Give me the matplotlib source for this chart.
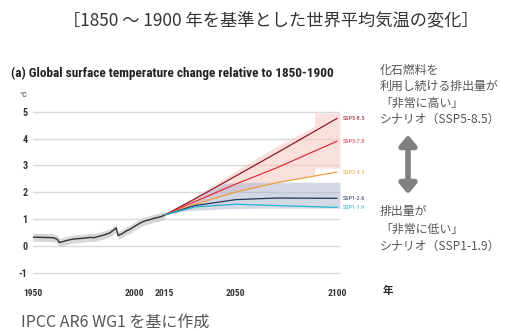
import numpy as np
import matplotlib.pyplot as plt
from matplotlib import font_manager as fm
from matplotlib.patches import FancyArrowPatch

# observed record 1950-2015 (deg C relative to 1850-1900)
hist_years = [1950, 1955, 1960, 1962, 1963, 1965, 1968, 1970, 1975, 1978, 1980, 1983,
              1985, 1988, 1990, 1991, 1992, 1994, 1996, 1998, 2000, 2003, 2005, 2008,
              2010, 2013, 2015]
hist_vals = [0.32, 0.31, 0.30, 0.24, 0.12, 0.16, 0.22, 0.25, 0.28, 0.31, 0.30, 0.36,
             0.40, 0.48, 0.60, 0.66, 0.38, 0.45, 0.55, 0.62, 0.72, 0.85, 0.92, 0.98,
             1.03, 1.08, 1.15]
hist_spread = 0.15

# scenario projections
proj_years = [2015, 2030, 2050, 2070, 2100]
scenarios = ['SSP5-8.5', 'SSP3-7.0', 'SSP2-4.5', 'SSP1-2.6', 'SSP1-1.9']
proj_vals = {
    'SSP5-8.5': [1.15, 1.75, 2.60, 3.45, 4.75],
    'SSP3-7.0': [1.15, 1.65, 2.30, 2.90, 3.90],
    'SSP2-4.5': [1.15, 1.55, 2.00, 2.35, 2.75],
    'SSP1-2.6': [1.15, 1.50, 1.72, 1.78, 1.77],
    'SSP1-1.9': [1.15, 1.45, 1.55, 1.50, 1.43],
}
colors = {
    'SSP5-8.5': '#8c1a2b',
    'SSP3-7.0': '#e0303a',
    'SSP2-4.5': '#f0a040',
    'SSP1-2.6': '#26355e',
    'SSP1-1.9': '#27b3d0',
}
# very likely ranges; the last stretch is the 2089-2100 box
red_years = [2015, 2030, 2050, 2070, 2088.9, 2089, 2101.5]
red_lo = [1.15, 1.55, 2.00, 2.35, 2.60, 2.90, 2.90]
red_hi = [1.15, 1.85, 2.80, 3.70, 4.45, 4.95, 4.95]
blue_years = [2015, 2025, 2037, 2045, 2060, 2101.5]
blue_lo = [1.15, 1.30, 1.35, 1.38, 1.40, 1.40]
blue_hi = [1.15, 1.45, 2.05, 2.33, 2.37, 2.37]

yticks = [-1, 0, 1, 2, 3, 4, 5]
xticks = [1950, 2000, 2015, 2050, 2100]


def pick_font(names, default='DejaVu Sans'):
    for n in names:
        try:
            fm.findfont(fm.FontProperties(family=n), fallback_to_default=False)
            return n
        except ValueError:
            pass
    return default


jp = ['Noto Sans CJK JP', 'DejaVu Sans']
narrow = pick_font(['Roboto Condensed', 'Liberation Sans Narrow', 'Open Sans Condensed'])
cond = dict(family=narrow, stretch='condensed')

fig = plt.figure(figsize=(5.27, 3.31), dpi=100)
ax = fig.add_axes([33/527, 0.1686, 307/527, 0.518])

hy = np.array(hist_years)
hv = np.array(hist_vals)
ax.fill_between(hy, hv - hist_spread, hv + hist_spread, color='#cdcdcd', alpha=0.8, lw=0)
ax.plot(hy, hv, color='#333333', lw=1.0)

ax.fill_between(red_years, red_lo, red_hi, color='#f7c3b9', alpha=0.5, lw=0)
ax.fill_between(blue_years, blue_lo, blue_hi, color='#aab0cf', alpha=0.5, lw=0)
for s in scenarios:
    ax.plot(proj_years, proj_vals[s], color=colors[s], lw=0.9)
    ax.text(2103, proj_vals[s][-1], s, color=colors[s], fontsize=4.5,
            va='center', ha='left', **cond)

ax.set_xlim(1950, 2101.5)
ax.set_ylim(-1.1, 5.3)
ax.set_yticks(yticks)
ax.set_yticklabels([str(v) for v in yticks], fontsize=7.2,
                   color='#333333', fontweight='bold', **cond)
ax.set_xticks(xticks)
ax.set_xticklabels([str(v) for v in xticks], fontsize=6.8,
                   color='#333333', fontweight='bold', **cond)
ax.tick_params(length=0, pad=10)
ax.tick_params(axis='y', pad=4)
ax.grid(axis='y', color='#d9d9d9', lw=1.0)
ax.set_axisbelow(True)
for sp in ax.spines.values():
    sp.set_visible(False)

fig.text(271/527, 1 - 21/331, '［1850 ～ 1900 年を基準とした世界平均気温の変化］',
         family=jp, fontsize=12.4, color='#333333', ha='center', va='center')
fig.text(11/527, 1 - 73/331, '(a) Global surface temperature change relative to 1850-1900',
         fontsize=9.5, fontweight='bold', color='#222222',
         ha='left', va='center', **cond)
fig.text(19/527, 1 - 95/331, '°C', fontsize=6, color='#333333',
         ha='left', va='center', **cond)

upper = ['化石燃料を', '利用し続ける排出量が', '「非常に高い」', 'シナリオ（SSP5-8.5）']
lower = ['排出量が', '「非常に低い」', 'シナリオ（SSP1-1.9）']
for i, line in enumerate(upper):
    fig.text(380/527, 1 - (70 + 16.5 * i)/331, line, family=jp, fontsize=8.6,
             color='#555555', ha='left', va='center')
for i, line in enumerate(lower):
    fig.text(380/527, 1 - (212 + 17 * i)/331, line, family=jp, fontsize=8.6,
             color='#555555', ha='left', va='center')
fig.patches.append(FancyArrowPatch(
    (408/527, 1 - 197/331), (408/527, 1 - 132/331), transform=fig.transFigure,
    arrowstyle='<|-|>,head_length=6,head_width=5', lw=4, color='#808080'))

fig.text(383/527, 1 - 291/331, '年', family=jp, fontsize=7.5, fontweight='bold',
         color='#222222', ha='left', va='center')
fig.text(21/527, 1 - 322/331, 'IPCC AR6 WG1 を基に作成', family=jp, fontsize=11.5,
         color='#555555', ha='left', va='center')

fig.savefig('out.png', dpi=100)
